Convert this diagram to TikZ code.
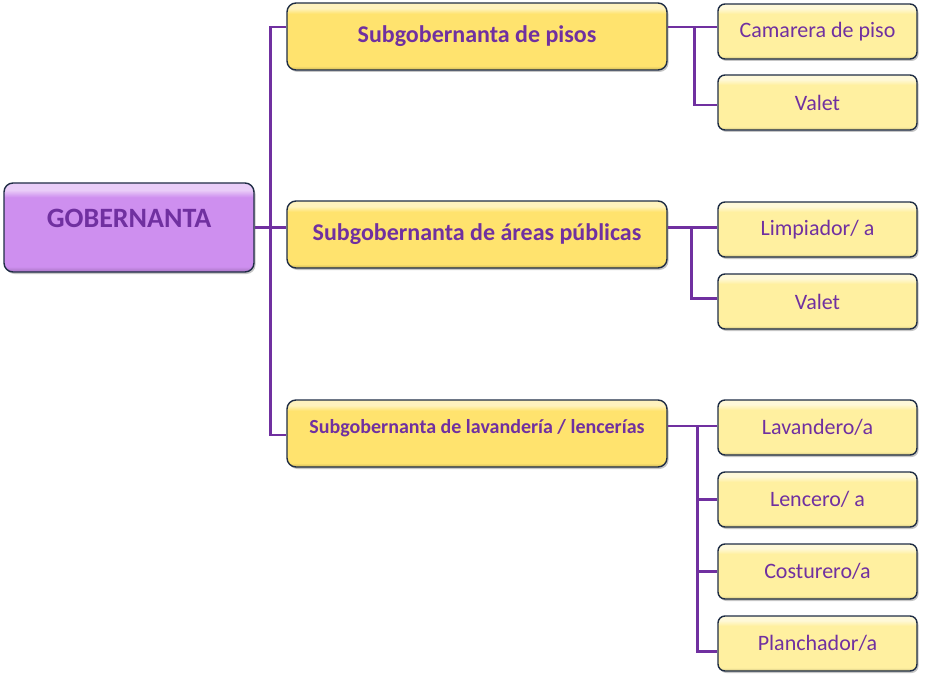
\documentclass[tikz,border=0pt]{standalone}
\usepackage{fontspec}
\setmainfont{Carlito}
\usepackage{tikz}
\usetikzlibrary{positioning, shadows, calc}
\definecolor{mypurple}{HTML}{7030A0}
\definecolor{myborder}{HTML}{1F2D45}
\definecolor{mylila}{HTML}{CE8FEF}
\definecolor{myyellow}{HTML}{FFE36E}
\definecolor{mylightyellow}{HTML}{FFF0A0}
\pgfdeclareverticalshading{glosslila}{100bp}{
  color(0bp)=(mylila!80!black); color(25bp)=(mylila!80!black);
  color(28bp)=(mylila); color(67bp)=(mylila);
  color(71bp)=(mylila!45!white); color(75bp)=(mylila!45!white); color(100bp)=(mylila!45!white)}
\pgfdeclareverticalshading{glossyellow}{100bp}{
  color(0bp)=(myyellow!80!black); color(25bp)=(myyellow!80!black);
  color(28bp)=(myyellow); color(67bp)=(myyellow);
  color(71bp)=(myyellow!45!white); color(75bp)=(myyellow!45!white); color(100bp)=(myyellow!45!white)}
\pgfdeclareverticalshading{glosslight}{100bp}{
  color(0bp)=(mylightyellow!80!black); color(25bp)=(mylightyellow!80!black);
  color(28bp)=(mylightyellow); color(66bp)=(mylightyellow);
  color(71bp)=(mylightyellow!40!white); color(75bp)=(mylightyellow!40!white); color(100bp)=(mylightyellow!40!white)}
\tikzset{
	basenode/.style={
			rectangle,
			rounded corners=9pt,
			draw=myborder,
			line width=1.4pt,
			text=mypurple,
			inner sep=0pt,
			drop shadow={shadow xshift=1.5pt, shadow yshift=-2pt, opacity=0.45}
		},
	gobnode/.style={
			basenode,
			shading=glosslila,
			minimum width=250pt,
			minimum height=89pt,
			font=\fontsize{28}{33}\selectfont\bfseries,
			text height=0.5em,
			text depth=0.5em
		},
	subnode/.style={
			basenode,
			shading=glossyellow,
			minimum width=380pt,
			minimum height=67pt,
			font=\fontsize{24}{29}\selectfont\bfseries
		},
	subnodesmall/.style={
			subnode,
			font=\fontsize{20}{24}\selectfont\bfseries,
			text height=0.5em,
			text depth=0.5em
		},
	puestonode/.style={
			basenode,
			rounded corners=7pt,
			shading=glosslight,
			minimum width=199pt,
			minimum height=55pt,
			font=\fontsize{22}{26}\selectfont
		},
	conector/.style={
			draw=mypurple,
			line width=2.6pt
		}
}
\begin{document}
\begin{tikzpicture}[x=1pt, y=-1pt]
\useasboundingbox (0,0) rectangle (932,682);

\node[gobnode] (gob) at (129,227.5) {GOBERNANTA};

\node[subnode] (sub1) at (477,36.5) {Subgobernanta de pisos};
\node[subnode] (sub2) at (477,234.5) {Subgobernanta de áreas públicas};
\node[subnodesmall] (sub3) at (477,433.5) {Subgobernanta de lavandería / lencerías};

\node[puestonode] (cam) at (817.5,31.5) {Camarera de piso};
\node[puestonode] (val1) at (817.5,102.5) {Valet};
\node[puestonode] (limp) at (817.5,229.5) {Limpiador/ a};
\node[puestonode] (val2) at (817.5,301.5) {Valet};
\node[puestonode] (lav) at (817.5,427.5) {Lavandero/a};
\node[puestonode] (lenc) at (817.5,499.5) {Lencero/ a};
\node[puestonode] (cost) at (817.5,571.5) {Costurero/a};
\node[puestonode] (plan) at (817.5,643.5) {Planchador/a};

% gobernanta -> subgobernantas
\coordinate (tronco) at ([xshift=16pt]gob.east);
\draw[conector] (gob.east) -- (gob.east -| sub2.west);
\draw[conector] (tronco) |- ([yshift=9.5pt]sub1.west);
\draw[conector] (tronco) |- ([yshift=-1.5pt]sub3.west);

% subgobernanta de pisos
\coordinate (s1) at ([yshift=9.5pt]sub1.east);
\draw[conector] (s1) -- (s1 -| cam.west);
\draw[conector] ([xshift=27pt]s1) |- ([yshift=-2.5pt]val1.west);

% subgobernanta de areas publicas
\coordinate (s2) at ([yshift=7pt]sub2.east);
\draw[conector] (s2) -- (s2 -| limp.west);
\draw[conector] ([xshift=24pt]s2) |- ([yshift=3pt]val2.west);

% subgobernanta de lavanderia
\coordinate (s3) at ([yshift=7.5pt]sub3.east);
\draw[conector] (s3) -- (s3 -| lav.west);
\draw[conector] ([xshift=30pt]s3) |- ([yshift=-8pt]plan.west);
\draw[conector] ([xshift=30pt]s3 |- lenc.west) -- (lenc.west);
\draw[conector] ([xshift=30pt]s3 |- cost.west) -- (cost.west);

\end{tikzpicture}
\end{document}
